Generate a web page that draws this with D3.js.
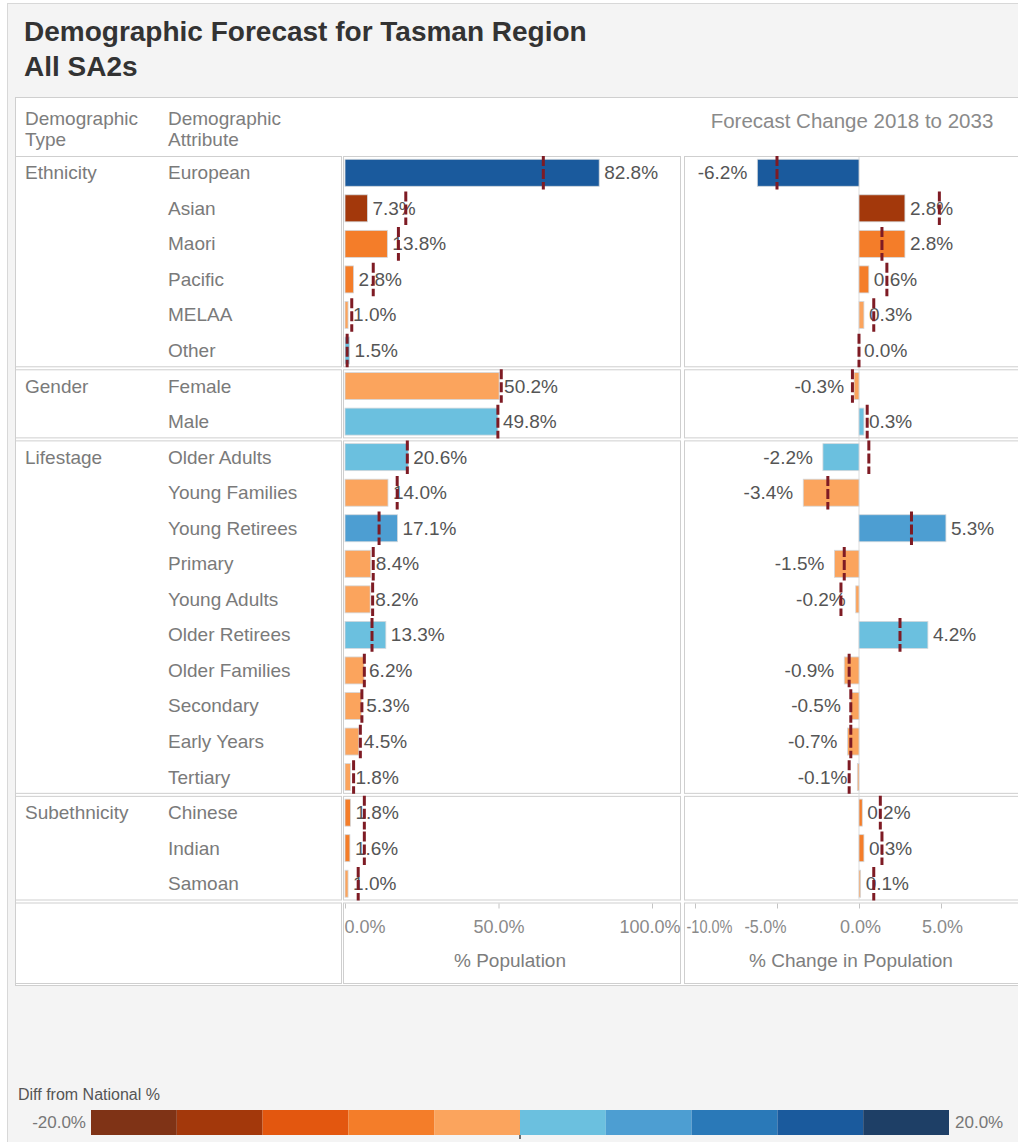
<!DOCTYPE html>
<html>
<head>
<meta charset="utf-8">
<title>Demographic Forecast for Tasman Region</title>
<script src="https://cdn.jsdelivr.net/npm/d3@7"></script>
<style>
  body { margin: 0; background: #ffffff; }
  svg text { font-family: "Liberation Sans", Arial, Helvetica, sans-serif; }
</style>
</head>
<body>
<svg id="chart" width="1018" height="1142"></svg>
<script>
// ---- Data -------------------------------------------------------------
const attributes = [
  "European", "Asian", "Maori", "Pacific", "MELAA", "Other",
  "Female", "Male",
  "Older Adults", "Young Families", "Young Retirees", "Primary", "Young Adults",
  "Older Retirees", "Older Families", "Secondary", "Early Years", "Tertiary",
  "Chinese", "Indian", "Samoan"
];
const attributeTypes = [
  "Ethnicity", "Ethnicity", "Ethnicity", "Ethnicity", "Ethnicity", "Ethnicity",
  "Gender", "Gender",
  "Lifestage", "Lifestage", "Lifestage", "Lifestage", "Lifestage",
  "Lifestage", "Lifestage", "Lifestage", "Lifestage", "Lifestage",
  "Subethnicity", "Subethnicity", "Subethnicity"
];
// % of population in the region
const population = [82.8, 7.3, 13.8, 2.8, 1.0, 1.5, 50.2, 49.8, 20.6, 14.0, 17.1, 8.4, 8.2, 13.3, 6.2, 5.3, 4.5, 1.8, 1.8, 1.6, 1.0];
// national % of population (reference line)
const nationalPopulation = [64.6, 19.8, 17.4, 9.2, 2.2, 0.7, 50.9, 49.8, 20.3, 17.0, 11.1, 9.2, 9.0, 8.8, 6.3, 5.5, 5.0, 2.8, 6.3, 6.3, 4.3];
// forecast change in share, 2018 to 2033
const change = [-6.2, 2.8, 2.8, 0.6, 0.3, 0.0, -0.3, 0.3, -2.2, -3.4, 5.3, -1.5, -0.2, 4.2, -0.9, -0.5, -0.7, -0.1, 0.2, 0.3, 0.1];
// national forecast change (reference line)
const nationalChange = [-5.0, 4.9, 1.4, 1.7, 0.9, 0.0, -0.4, 0.5, 0.6, -1.9, 3.2, -0.9, -1.1, 2.5, -0.6, -0.5, -0.5, -0.6, 1.3, 1.4, 0.9];
// colour measure: difference from national %
const diffFromNational = [15.0, -12.5, -4.5, -6.4, -1.2, 0.8, -0.6, 0.2, 0.3, -3.0, 6.0, -0.8, -0.8, 3.5, -0.1, -0.2, -0.5, -1.0, -4.5, -4.7, -3.3];

const popTicks = [0, 50, 100];
const changeTicks = [-10, -5, 0, 5];
const legendDomain = [-20, 20];
const legendColors = ["#7f3316", "#a3380b", "#e3570f", "#f47d29", "#fba45d",
                      "#6bc0df", "#4d9ed2", "#2a79b8", "#1a5a9d", "#1e3f66"];

// ---- Layout -----------------------------------------------------------
const svg = d3.select("#chart");
const W = 1018, H = 1142;
const rowsTop = 155, rowsBottom = 901.5, axisBottom = 985;
const colLabel = [15, 342], colPop = [343, 681], colChg = [684, 1024];
const FONT = 19;

const rows = attributes.map((a, i) => ({
  attr: a, type: attributeTypes[i],
  pop: population[i], natPop: nationalPopulation[i],
  chg: change[i], natChg: nationalChange[i],
  diff: diffFromNational[i]
}));

const y = d3.scaleBand().domain(attributes).range([rowsTop, rowsBottom])
  .paddingInner(0.24).paddingOuter(0.12);
const gapPad = (y.step() - y.bandwidth()) / 2;

const xPop = d3.scaleLinear().domain([0, 100]).range([345, 652]);
const xChg = d3.scaleLinear().domain([-10, 10]).range([695, 1023]);
const color = d3.scaleThreshold()
  .domain(d3.range(-16, 20, 4))
  .range(legendColors);

// page frame
svg.append("rect").attr("x", 7.5).attr("y", 3.5).attr("width", W).attr("height", H)
  .attr("fill", "#f4f4f4").attr("stroke", "#d8d8d8");

// title
const titleTop = svg.append("g").attr("font-size", 28).attr("font-weight", "bold").attr("fill", "#333");
titleTop.append("text").attr("x", 24).attr("y", 41).text("Demographic Forecast for Tasman Region");
titleTop.append("text").attr("x", 24).attr("y", 76).text("All SA2s");

// main white panel
svg.append("rect").attr("x", 15.5).attr("y", 97.5)
  .attr("width", W + 10).attr("height", axisBottom - 97)
  .attr("fill", "#fff").attr("stroke", "#cfcfcf");

// header labels
const headerG = svg.append("g").attr("fill", "#7d7d7d").attr("font-size", FONT);
[["Demographic", "Type", 25], ["Demographic", "Attribute", 168]].forEach(([l1, l2, x]) => {
  headerG.append("text").attr("x", x).attr("y", 125).text(l1);
  headerG.append("text").attr("x", x).attr("y", 146).text(l2);
});
headerG.append("text").attr("x", 852).attr("y", 128).attr("text-anchor", "middle")
  .attr("font-size", 20.5).attr("fill", "#8a8a8a")
  .text("Forecast Change 2018 to 2033");

// section boxes for each column
const sections = Array.from(d3.group(rows, d => d.type), ([type, rs]) => ({
  type,
  top: y(rs[0].attr) - gapPad,
  bottom: y(rs[rs.length - 1].attr) + y.bandwidth() + gapPad,
  first: rs[0].attr
}));
const boxes = sections.map(s => ({ top: s.top, bottom: s.bottom }))
  .concat([{ top: rowsBottom, bottom: axisBottom }]);
const boxG = svg.append("g");
[colLabel, colPop, colChg].forEach(col => {
  boxes.forEach(b => {
    boxG.append("rect")
      .attr("x", col[0] + 0.5).attr("y", b.top + 1.5)
      .attr("width", col[1] - col[0] - 1).attr("height", b.bottom - b.top - 3)
      .attr("fill", "#fff").attr("stroke", "#cfcfcf");
  });
});

// row and section labels
const labelG = svg.append("g").attr("font-size", FONT).attr("fill", "#7a7a7a");
sections.forEach(s => {
  labelG.append("text").attr("x", 25).attr("y", y(s.first) + y.bandwidth() / 2 + 6.5).text(s.type);
});
labelG.selectAll("text.attr").data(rows).join("text").attr("class", "attr")
  .attr("x", 168).attr("y", d => y(d.attr) + y.bandwidth() / 2 + 6.5)
  .text(d => d.attr);

// zero line in the change panel
svg.append("line").attr("x1", xChg(0)).attr("x2", xChg(0))
  .attr("y1", rowsTop + 2).attr("y2", rowsBottom - 2)
  .attr("stroke", "#dcdcdc").attr("stroke-width", 1);

const fmt = v => v.toFixed(1) + "%";

// population bars
svg.append("g").selectAll("rect").data(rows).join("rect")
  .attr("x", xPop(0)).attr("y", d => y(d.attr))
  .attr("width", d => xPop(d.pop) - xPop(0)).attr("height", y.bandwidth())
  .attr("fill", d => color(d.diff))
  .attr("stroke", "#d4d8dc").attr("stroke-width", 0.8);

// change bars
svg.append("g").selectAll("rect").data(rows).join("rect")
  .attr("x", d => xChg(Math.min(0, d.chg))).attr("y", d => y(d.attr))
  .attr("width", d => Math.abs(xChg(d.chg) - xChg(0))).attr("height", y.bandwidth())
  .attr("fill", d => color(d.diff))
  .attr("stroke", "#d4d8dc").attr("stroke-width", 0.8);

// value labels
const valG = svg.append("g").attr("font-size", FONT).attr("fill", "#555");
valG.selectAll("text.pop").data(rows).join("text").attr("class", "pop")
  .attr("x", d => xPop(d.pop) + 5)
  .attr("y", d => y(d.attr) + y.bandwidth() / 2 + 6.5)
  .text(d => fmt(d.pop));
valG.selectAll("text.chg").data(rows).join("text").attr("class", "chg")
  .attr("x", d => d.chg < 0 ? xChg(d.chg) - 10 : xChg(d.chg) + 5)
  .attr("text-anchor", d => d.chg < 0 ? "end" : "start")
  .attr("y", d => y(d.attr) + y.bandwidth() / 2 + 6.5)
  .text(d => fmt(d.chg));

// national reference lines (dashed)
const refStyle = sel => sel.attr("stroke", "#7e1b24").attr("stroke-width", 3)
  .attr("stroke-dasharray", "10,3");
svg.append("g").selectAll("line").data(rows).join("line")
  .attr("x1", d => xPop(d.natPop)).attr("x2", d => xPop(d.natPop))
  .attr("y1", d => y(d.attr) - gapPad + 1).attr("y2", d => y(d.attr) + y.bandwidth() + gapPad - 1)
  .call(refStyle);
svg.append("g").selectAll("line").data(rows).join("line")
  .attr("x1", d => xChg(d.natChg)).attr("x2", d => xChg(d.natChg))
  .attr("y1", d => y(d.attr) - gapPad + 1).attr("y2", d => y(d.attr) + y.bandwidth() + gapPad - 1)
  .call(refStyle);

// axes
function styleAxis(g) {
  g.select(".domain").remove();
  g.selectAll(".tick line").attr("stroke", "#c4c4c4");
  g.selectAll(".tick text").attr("fill", "#8a8a8a").attr("font-size", 18)
    .attr("font-family", "\"Liberation Sans\", Arial, sans-serif");
}
const axisY = rowsBottom + 2;
const popAxis = svg.append("g").attr("transform", `translate(0,${axisY})`)
  .call(d3.axisBottom(xPop).tickValues(popTicks).tickFormat(d => fmt(d)).tickSize(5).tickPadding(12))
  .call(styleAxis);
popAxis.selectAll(".tick text")
  .attr("text-anchor", d => d === 0 ? "start" : d === 100 ? "end" : "middle")
  .attr("x", d => d === 0 ? -1 : d === 100 ? 28 : 0);
const chgAxis = svg.append("g").attr("transform", `translate(0,${axisY})`)
  .call(d3.axisBottom(xChg).tickValues(changeTicks).tickFormat(d => fmt(d)).tickSize(5).tickPadding(12))
  .call(styleAxis);
// the two negative tick labels are squeezed to fit side by side
chgAxis.selectAll(".tick text")
  .attr("text-anchor", d => d === -10 ? "start" : d === -5 ? "end" : "middle")
  .attr("x", d => d === -10 ? -9 : d === -5 ? 9 : 1)
  .each(function (d) {
    if (d < 0) {
      d3.select(this).attr("textLength", d === -10 ? 46 : 42)
        .attr("lengthAdjust", "spacingAndGlyphs");
    }
  });

// axis titles
const titleG = svg.append("g").attr("font-size", FONT).attr("fill", "#7d7d7d").attr("text-anchor", "middle");
titleG.append("text").attr("x", 510).attr("y", 967).text("% Population");
titleG.append("text").attr("x", 851).attr("y", 967).text("% Change in Population");

// colour legend
const legX = d3.scaleLinear().domain(legendDomain).range([91, 949]);
const legG = svg.append("g");
legG.append("text").attr("x", 18).attr("y", 1100).attr("font-size", 16).attr("fill", "#555")
  .text("Diff from National %");
const binWidth = (legendDomain[1] - legendDomain[0]) / legendColors.length;
const bins = d3.range(legendColors.length).map(i => {
  const lo = legendDomain[0] + i * binWidth;
  return { lo, hi: lo + binWidth };
});
legG.selectAll("rect").data(bins).join("rect")
  .attr("x", d => legX(d.lo)).attr("y", 1110)
  .attr("width", d => legX(d.hi) - legX(d.lo)).attr("height", 25)
  .attr("fill", d => color((d.lo + d.hi) / 2));
legG.append("line").attr("x1", legX(0)).attr("x2", legX(0))
  .attr("y1", 1135).attr("y2", 1139).attr("stroke", "#444").attr("stroke-width", 1.5);
legG.append("text").attr("x", 86).attr("y", 1128).attr("text-anchor", "end")
  .attr("font-size", 17).attr("fill", "#777").text(fmt(legendDomain[0]));
legG.append("text").attr("x", 955).attr("y", 1128)
  .attr("font-size", 17).attr("fill", "#777").text(fmt(legendDomain[1]));
</script>
</body>
</html>
